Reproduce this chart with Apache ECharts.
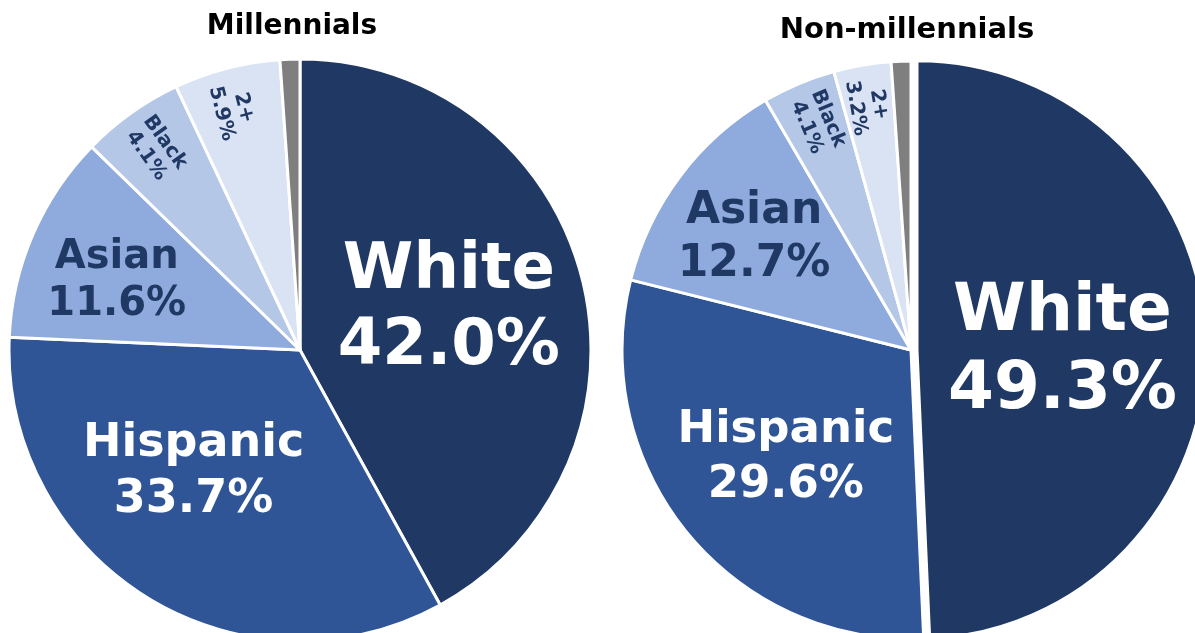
<!DOCTYPE html>
<html>
<head>
<meta charset="utf-8">
<script src="https://cdn.jsdelivr.net/npm/echarts@6/dist/echarts.min.js"></script>
<style>
  html, body { margin: 0; padding: 0; background: #fff; }
  #chart { width: 1195px; height: 633px; }
</style>
</head>
<body>
<div id="chart"></div>
<script>
const groups = ['Millennials', 'Non-millennials']
const categories = ['White', 'Hispanic', 'Asian', 'Black', '2+', 'Other']
// slice sizes as they are drawn
const millShares = [42.0, 33.7, 11.6, 5.7, 5.9, 1.1]
const nonMillShares = [49.3, 29.6, 12.7, 4.1, 3.2, 1.1]
// percentages printed on the slices
const millLabels = ['42.0%', '33.7%', '11.6%', '4.1%', '5.9%', '']
const nonMillLabels = ['49.3%', '29.6%', '12.7%', '4.1%', '3.2%', '']

const sliceColors = ['#203864', '#2f5597', '#8faadc', '#b4c7e7', '#dae3f3', '#7f7f7f']
const labelColors = ['#fff', '#fff', '#203864', '#203864', '#203864', '#203864']
const FONT = '"DejaVu Sans", Verdana, sans-serif'

// font size / line height per slice, and label nudges from the default inside spot
// (the small rotated ones are nudged in their own rotated frame, i.e. outward along the radius)
const millSizes = [64, 46, 40, 20, 20, 20]
const millLines = [76, 56, 47, 23, 23, 23]
const millNudge = [[5, -4], [-28, -4], [-47, -10], [-99, 1], [-100, 5], [0, 0]]
const nonMillSizes = [66, 45, 44, 20, 20, 20]
const nonMillLines = [78, 55, 53, 23, 23, 23]
const nonMillNudge = [[-2, 5], [-11, 15], [-39, -23], [-98, -2], [-100, 2], [0, 0]]

function buildData(shares, labels, sizes, lines, pulled) {
  return categories.map((name, i) => ({
    name,
    value: shares[i],
    selected: i === pulled,
    itemStyle: { color: sliceColors[i] },
    label: {
      show: labels[i] !== '',
      formatter: name + '\n' + labels[i],
      fontSize: sizes[i],
      lineHeight: lines[i],
      color: labelColors[i],
      rotate: i >= 3 ? 'radial' : 0
    }
  }))
}

function pieSeries(name, center, radius, shares, labels, sizes, lines, nudge, pulled) {
  return {
    name,
    type: 'pie',
    center,
    radius,
    startAngle: 90,
    clockwise: true,
    silent: true,
    selectedMode: 'single',
    selectedOffset: 6,
    itemStyle: { borderColor: '#fff', borderWidth: 3 },
    label: {
      position: 'inside',
      fontFamily: FONT,
      fontWeight: 'bold',
      align: 'center',
      verticalAlign: 'middle'
    },
    labelLine: { show: false },
    labelLayout: (p) => ({ dx: nudge[p.dataIndex][0], dy: nudge[p.dataIndex][1] }),
    data: buildData(shares, labels, sizes, lines, pulled)
  }
}

const myEcharts = echarts.init(document.getElementById('chart'))
myEcharts.setOption({
  animation: false,
  graphic: [
    {
      type: 'text', x: 292, y: 27,
      style: { text: groups[0], font: 'bold 28px ' + FONT, fill: '#000', align: 'center', verticalAlign: 'middle' }
    },
    {
      type: 'text', x: 907, y: 30,
      style: { text: groups[1], font: 'bold 29px ' + FONT, fill: '#000', align: 'center', verticalAlign: 'middle' }
    }
  ],
  series: [
    pieSeries(groups[0], [300, 350], 291, millShares, millLabels, millSizes, millLines, millNudge, -1),
    pieSeries(groups[1], [911, 350], 289, nonMillShares, nonMillLabels, nonMillSizes, nonMillLines, nonMillNudge, 0)
  ]
})
window.addEventListener('resize', () => {
  myEcharts.resize()
})
</script>
</body>
</html>
